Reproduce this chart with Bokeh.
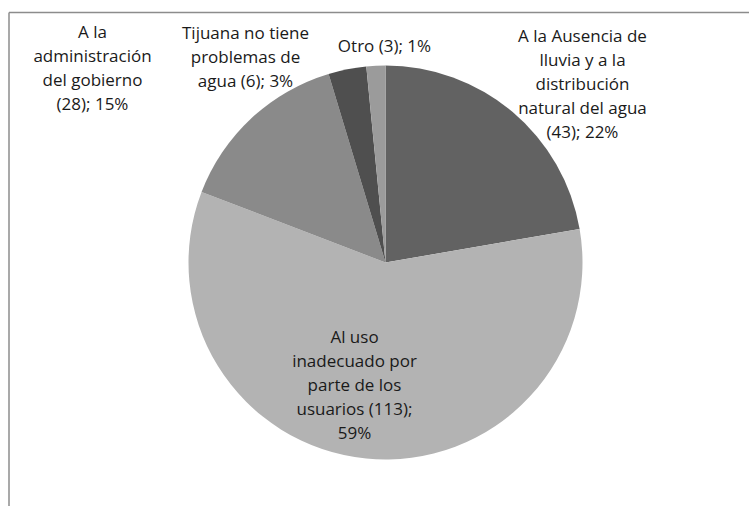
import math
from bokeh.plotting import figure
from bokeh.models import Range1d, ColumnDataSource
from bokeh.core.properties import value
from bokeh.embed import file_html
from bokeh.resources import INLINE

# ---- data ----
categories = [
    "A la Ausencia de\nlluvia y a la\ndistribución\nnatural del agua",
    "Al uso\ninadecuado por\nparte de los\nusuarios",
    "A la\nadministración\ndel gobierno",
    "Tijuana no tiene\nproblemas de\nagua",
    "Otro",
]
counts = [43, 113, 28, 6, 3]
percent_labels = ["22%", "59%", "15%", "3%", "1%"]
label_texts = [
    "A la Ausencia de\nlluvia y a la\ndistribución\nnatural del agua\n(43); 22%",
    "Al uso\ninadecuado por\nparte de los\nusuarios (113);\n59%",
    "A la\nadministración\ndel gobierno\n(28); 15%",
    "Tijuana no tiene\nproblemas de\nagua (6); 3%",
    "Otro (3); 1%",
]
colors = ["#626262", "#b3b3b3", "#8a8a8a", "#4f4f4f", "#9b9b9b"]

# ---- layout (pixel space of the frame, y up) ----
W, H = 749, 506
cx, cy = 385, 244          # pie centre
R = 197                    # pie radius
label_pos = [(582, 423), (354, 122), (92, 439), (245, 450), (384, 461)]

total = float(sum(counts))
starts, ends = [], []
acc = 0.0
for c in counts:
    starts.append(math.pi / 2 - 2 * math.pi * acc / total)
    acc += c
    ends.append(math.pi / 2 - 2 * math.pi * acc / total)

src = ColumnDataSource(dict(
    x=[cx] * len(counts), y=[cy] * len(counts),
    start=starts, end=ends, color=colors, cat=categories, n=counts,
))

p = figure(width=W, height=H, output_backend="svg", toolbar_location=None,
           x_range=Range1d(0, W), y_range=Range1d(0, H),
           x_axis_location=None, y_axis_location=None,
           min_border=0, outline_line_color=None)
p.grid.visible = False
p.background_fill_color = "white"
p.border_fill_color = "white"

# chart-area border (top and left edges visible)
p.segment(x0=[8.5, 8.5], y0=[494, 494], x1=[W, 8.5], y1=[494, 0],
          line_color="#8c8c8c", line_width=1.5)

p.wedge(x="x", y="y", radius=R, start_angle="start", end_angle="end",
        direction="clock", fill_color="color", line_color=None, source=src)

lsrc = ColumnDataSource(dict(
    x=[lp[0] for lp in label_pos], y=[lp[1] for lp in label_pos], t=label_texts,
))
p.text(x="x", y="y", text="t", source=lsrc, text_align="center",
       text_baseline="middle", text_font=value("Open Sans"),
       text_font_size="17px", text_color="#1a1a1a", text_line_height=1.05)

open("out.html", "w").write(file_html(p, INLINE))
